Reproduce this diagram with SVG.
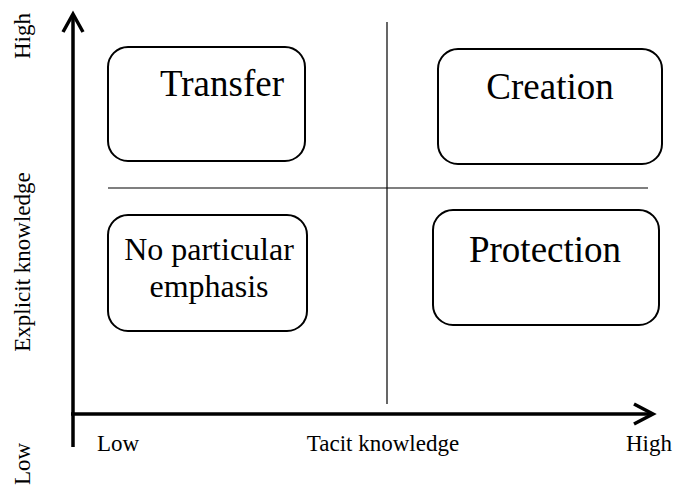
<svg xmlns="http://www.w3.org/2000/svg" width="676" height="486" viewBox="0 0 676 486" font-family="'Liberation Serif', 'Times New Roman', serif">
  <style>
    .axis { stroke: #000; stroke-width: 3.5; fill: none; }
    .head { stroke: #000; stroke-width: 3.5; fill: none; stroke-linecap: butt; stroke-linejoin: miter; }
    .divider { stroke: #000; stroke-width: 1.2; fill: none; }
    .box { fill: #fff; stroke: #000; stroke-width: 2; }
    text { font-family: 'Liberation Serif', 'Times New Roman', serif; fill: #000; }
    .big { font-size: 37px; text-anchor: middle; }
    .mid { font-size: 32px; text-anchor: middle; }
    .lbl { font-size: 23px; }
  </style>
  <rect width="676" height="486" fill="#fff"/>

  <!-- quadrant dividers and axes -->
  <g id="connectors">
    <line class="divider" x1="108" y1="188" x2="648" y2="188"/>
    <line class="divider" x1="387" y1="22" x2="387" y2="404"/>
    <line class="axis" x1="73" y1="15" x2="73" y2="447"/>
    <line class="axis" x1="71" y1="414" x2="652" y2="414"/>
    <polyline class="head" points="63,32 73,14 83,32"/>
    <polyline class="head" points="634,404 653,414 634,424"/>
  </g>

  <!-- axis labels -->
  <g id="axis-labels">
    <text class="lbl" text-anchor="middle" transform="translate(30,36) rotate(-90)">High</text>
    <text class="lbl" text-anchor="middle" transform="translate(30,262) rotate(-90)">Explicit knowledge</text>
    <text class="lbl" text-anchor="middle" transform="translate(30,464) rotate(-90)">Low</text>
    <text class="lbl" x="97" y="451">Low</text>
    <text class="lbl" x="383" y="451" text-anchor="middle">Tacit knowledge</text>
    <text class="lbl" x="672" y="451" text-anchor="end">High</text>
  </g>

  <g id="transfer">
    <rect class="box" x="108" y="47" width="197" height="114" rx="20"/>
    <text class="big" x="222" y="96" font-family="'Liberation Serif', serif">Transfer</text>
  </g>

  <g id="creation">
    <rect class="box" x="438" y="49" width="224" height="115" rx="20"/>
    <text class="big" x="550" y="99" font-family="'Liberation Serif', serif">Creation</text>
  </g>

  <g id="no-particular-emphasis">
    <rect class="box" x="108" y="215" width="199" height="116" rx="20"/>
    <text class="mid" x="209" y="260" font-family="'Liberation Serif', serif">No particular</text>
    <text class="mid" x="209" y="297" font-family="'Liberation Serif', serif">emphasis</text>
  </g>

  <g id="protection">
    <rect class="box" x="433" y="210" width="226" height="115" rx="20"/>
    <text class="big" x="545" y="262" font-family="'Liberation Serif', serif">Protection</text>
  </g>
</svg>
